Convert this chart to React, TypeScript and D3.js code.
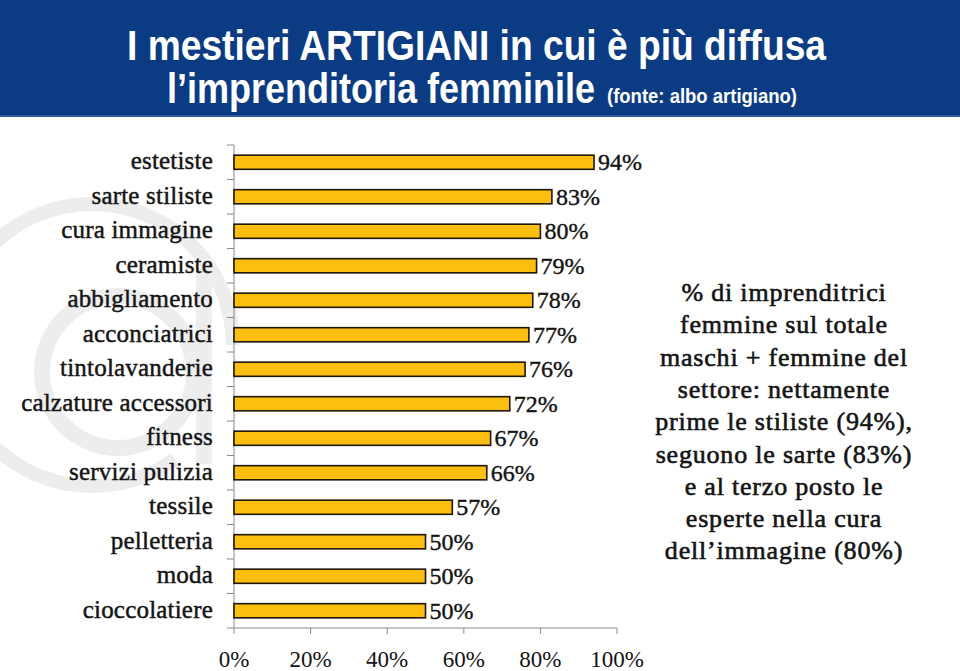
import React from "react";
import * as d3 from "d3";

const categories = [
  "estetiste",
  "sarte stiliste",
  "cura immagine",
  "ceramiste",
  "abbigliamento",
  "acconciatrici",
  "tintolavanderie",
  "calzature accessori",
  "fitness",
  "servizi pulizia",
  "tessile",
  "pelletteria",
  "moda",
  "cioccolatiere",
];
const values = [94, 83, 80, 79, 78, 77, 76, 72, 67, 66, 57, 50, 50, 50];
const xTicks = [0, 20, 40, 60, 80, 100];
const titleLine1 = "I mestieri ARTIGIANI in cui è più diffusa";
const titleLine2 = "l\u2019imprenditoria femminile";
const titleSource = "(fonte: albo artigiano)";
const noteLines = [
  "% di imprenditrici",
  "femmine sul totale",
  "maschi + femmine del",
  "settore: nettamente",
  "prime le stiliste (94%),",
  "seguono le sarte (83%)",
  "e al terzo posto le",
  "esperte nella cura",
  "dell\u2019immagine (80%)",
];

const W = 960;
const H = 671;
const serif = "'Liberation Serif', 'Times New Roman', serif";
const narrow = "'Liberation Sans Narrow', 'Arial Narrow', 'Liberation Sans', Arial, sans-serif";

export default function App() {
  const x = d3.scaleLinear().domain([0, 100]).range([234, 617]);
  const y = d3.scaleBand<string>().domain(categories).range([145, 628]).paddingInner(0.59).paddingOuter(0.295);
  const yOuter = d3.scaleBand<string>().domain(categories).range([145, 628]);
  const axisY = 628;
  const axisColor = "#8a8a8a";

  const ring = d3.arc()({ innerRadius: 134, outerRadius: 148, startAngle: Math.PI * 0.8, endAngle: Math.PI * 2.5 }) || "";
  const bowl = d3.arc()({ innerRadius: 68, outerRadius: 84, startAngle: 0, endAngle: Math.PI * 2 }) || "";

  const ink = "#141414";

  return (
    <svg width={W} height={H} style={{ position: "absolute", left: 0, top: 0, background: "#fff" }}>
      <rect x={0} y={0} width={W} height={H} fill="#fff" />
      {/* watermark */}
      <g fill="#ededed">
        <path d={ring} transform="translate(92,345)" />
        <path d={bowl} transform="translate(118,372)" />
        <rect x={196} y={268} width={16} height={196} />
      </g>
      {/* header */}
      <rect x={0} y={0} width={W} height={117} fill="#0b3c83" />
      <rect x={0} y={115} width={W} height={2} fill="#2f5a9a" />
      <text x={127} y={60} fill="#fff" fontFamily={narrow} fontWeight="bold" fontSize={42} textLength={699} lengthAdjust="spacingAndGlyphs">
        {titleLine1}
      </text>
      <text x={167} y={103} fill="#fff" fontFamily={narrow} fontWeight="bold" fontSize={42} textLength={428} lengthAdjust="spacingAndGlyphs">
        {titleLine2}
      </text>
      <text x={607} y={103} fill="#fff" fontFamily={narrow} fontWeight="bold" fontSize={20} textLength={190} lengthAdjust="spacingAndGlyphs">
        {titleSource}
      </text>

      {/* left axis */}
      <line x1={234} x2={234} y1={145} y2={axisY} stroke={axisColor} strokeWidth={1} />
      {categories.map((c) => (
        <line key={"t" + c} x1={227} x2={234} y1={yOuter(c)!} y2={yOuter(c)!} stroke={axisColor} />
      ))}
      <line x1={227} x2={234} y1={axisY} y2={axisY} stroke={axisColor} />

      {/* bottom axis */}
      <line x1={234} x2={617} y1={axisY} y2={axisY} stroke={axisColor} />
      {xTicks.map((t) => (
        <g key={"x" + t}>
          <line x1={x(t)} x2={x(t)} y1={axisY} y2={axisY + 6} stroke={axisColor} />
          <text x={x(t)} y={667} textAnchor="middle" fontFamily={serif} fontSize={23} fill={ink}>
            {t + "%"}
          </text>
        </g>
      ))}

      {/* bars */}
      {categories.map((c, i) => (
        <g key={c}>
          <rect
            x={x(0)}
            y={y(c)!}
            width={x(values[i]) - x(0)}
            height={y.bandwidth()}
            fill="#fdbf0f"
            stroke="#1e1608"
            strokeWidth={1.6}
          />
          <text
            x={x(values[i]) + 4}
            y={y(c)! + y.bandwidth() / 2 + 8}
            fontFamily={serif}
            fontSize={24}
            fill={ink}
            stroke={ink}
            strokeWidth={0.4}
          >
            {values[i] + "%"}
          </text>
          <text
            x={213}
            y={yOuter(c)! + yOuter.bandwidth() / 2 + 7}
            textAnchor="end"
            fontFamily={serif}
            fontSize={25}
            fill={ink}
            stroke={ink}
            strokeWidth={0.45}
            letterSpacing={0.2}
          >
            {c}
          </text>
        </g>
      ))}

      {/* note */}
      {noteLines.map((l, i) => (
        <text
          key={l}
          x={784}
          y={301 + i * 32.3}
          textAnchor="middle"
          fontFamily={serif}
          fontSize={26}
          fill={ink}
          stroke={ink}
          strokeWidth={0.6}
          letterSpacing={0.8}
        >
          {l}
        </text>
      ))}
    </svg>
  );
}
